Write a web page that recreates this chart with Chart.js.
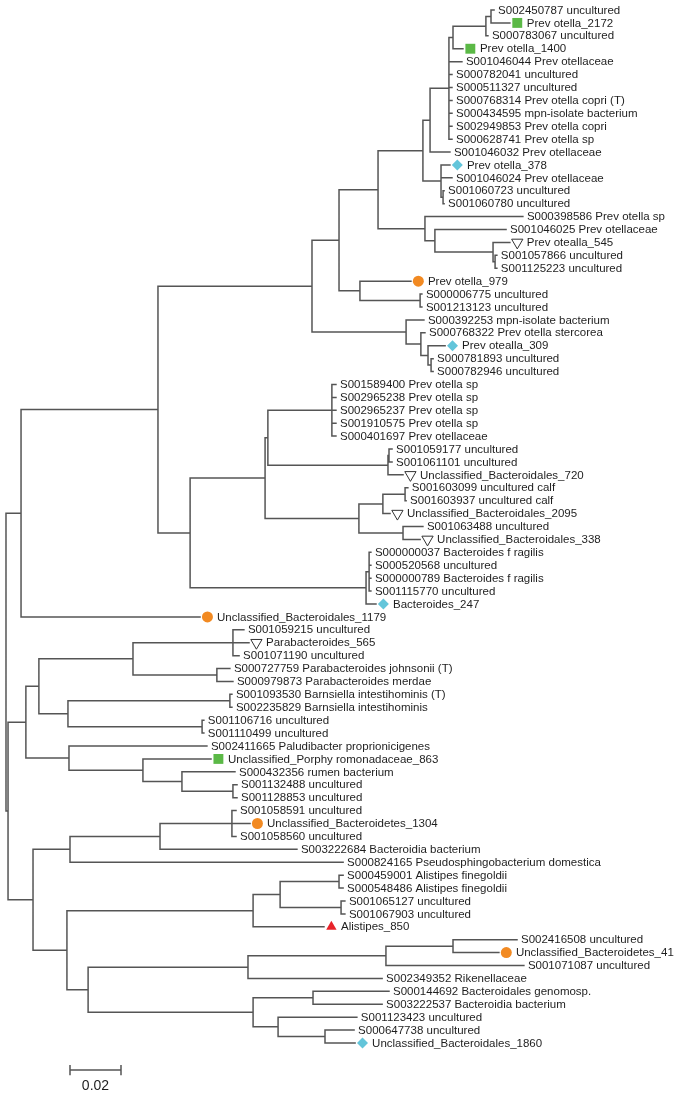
<!DOCTYPE html>
<html>
<head>
<meta charset="utf-8">
<script src="https://cdn.jsdelivr.net/npm/chart.js@4.4.1/dist/chart.umd.min.js"></script>
<style>
  html, body { margin: 0; padding: 0; background: #fff; }
  #wrap { width: 686px; height: 1095px; position: relative; }
</style>
</head>
<body>
<div id="wrap"><canvas id="chart"></canvas></div>
<script>
/* tree: internal nodes (id, parent, distance from root) */
const nodeIds = ["root","K","L","M","I","J","F","E","D","C","B","A","G","H","R","S","T","U","O","P",
  "Q","V","W","X","N","Y","Y2","Z","AA","AB","BB","CC","DD","EE","FF","GG",
  "RR","SS","UU","WW","YY","ZZ","XX","AAA","BBB","VV","CCC","DDD","EEE",
  "TT","FFF","HHH","III","GGG","JJJ","LLL","MMM","NNN","KKK","OOO","QQQ","RRR","PPP","SSS","TTT","UUU"];
const nodeParents = [null,"root","K","L","M","I","J","F","E","D","C","B","F","G","J","R","S","T","I","O",
  "M","Q","V","W","L","N","Y","Y2","Y2","AA","Y","BB","CC","BB","N","FF",
  "root","RR","SS","UU","WW","WW","UU","XX","XX","SS","VV","CCC","DDD",
  "RR","TT","FFF","HHH","TT","GGG","JJJ","LLL","LLL","GGG","KKK","OOO","QQQ","KKK","PPP","PPP","TTT"];
const nodeDepths = [0,0.0059,0.0596,0.1200,0.1306,0.1459,0.1635,0.1663,0.1737,0.1753,0.1882,0.1902,0.1706,0.1714,0.1643,0.1682,0.1910,0.1918,0.1388,0.1624,
  0.1569,0.1627,0.1655,0.1667,0.0722,0.1016,0.1027,0.1278,0.1498,0.1502,0.1384,0.1478,0.1565,0.1557,0.1412,0.1424,
  0.0008,0.0078,0.0129,0.0498,0.0890,0.0827,0.0243,0.0878,0.0769,0.0247,0.0537,0.0690,0.0890,
  0.0106,0.0251,0.0604,0.0886,0.0239,0.0969,0.1075,0.1306,0.1314,0.0322,0.0949,0.1490,0.1753,0.0969,0.1204,0.1067,0.1251];

/* leaves, top to bottom */
const leafLabels = [
  "S002450787 uncultured","Prev otella_2172","S000783067 uncultured","Prev otella_1400",
  "S001046044 Prev otellaceae","S000782041 uncultured","S000511327 uncultured","S000768314 Prev otella copri (T)",
  "S000434595 mpn-isolate bacterium","S002949853 Prev otella copri","S000628741 Prev otella sp","S001046032 Prev otellaceae",
  "Prev otella_378","S001046024 Prev otellaceae","S001060723 uncultured","S001060780 uncultured",
  "S000398586 Prev otella sp","S001046025 Prev otellaceae","Prev otealla_545","S001057866 uncultured",
  "S001125223 uncultured","Prev otella_979","S000006775 uncultured","S001213123 uncultured",
  "S000392253 mpn-isolate bacterium","S000768322 Prev otella stercorea","Prev otealla_309","S000781893 uncultured",
  "S000782946 uncultured","S001589400 Prev otella sp","S002965238 Prev otella sp","S002965237 Prev otella sp",
  "S001910575 Prev otella sp","S000401697 Prev otellaceae","S001059177 uncultured","S001061101 uncultured",
  "Unclassified_Bacteroidales_720","S001603099 uncultured calf","S001603937 uncultured calf","Unclassified_Bacteroidales_2095",
  "S001063488 uncultured","Unclassified_Bacteroidales_338","S000000037 Bacteroides f ragilis","S000520568 uncultured",
  "S000000789 Bacteroides f ragilis","S001115770 uncultured","Bacteroides_247","Unclassified_Bacteroidales_1179",
  "S001059215 uncultured","Parabacteroides_565","S001071190 uncultured","S000727759 Parabacteroides johnsonii (T)",
  "S000979873 Parabacteroides merdae","S001093530 Barnsiella intestihominis (T)","S002235829 Barnsiella intestihominis","S001106716 uncultured",
  "S001110499 uncultured","S002411665 Paludibacter proprionicigenes","Unclassified_Porphy romonadaceae_863","S000432356 rumen bacterium",
  "S001132488 uncultured","S001128853 uncultured","S001058591 uncultured","Unclassified_Bacteroidetes_1304",
  "S001058560 uncultured","S003222684 Bacteroidia bacterium","S000824165 Pseudosphingobacterium domestica","S000459001 Alistipes finegoldii",
  "S000548486 Alistipes finegoldii","S001065127 uncultured","S001067903 uncultured","Alistipes_850",
  "S002416508 uncultured","Unclassified_Bacteroidetes_41","S001071087 uncultured","S002349352 Rikenellaceae",
  "S000144692 Bacteroidales genomosp.","S003222537 Bacteroidia bacterium","S001123423 uncultured","S000647738 uncultured",
  "Unclassified_Bacteroidales_1860"
];
const leafParents = [
  "A","A","B","C","D","D","D","D","D","D","D","E","G","G","H","H",
  "R","S","T","U","U","O","P","P","Q","V","W","X","X",
  "Z","Z","Z","Z","Z","AB","AB","AA","DD","DD","CC","EE","EE",
  "GG","GG","GG","GG","FF","K",
  "YY","YY","YY","ZZ","ZZ","AAA","AAA","BBB","BBB","VV","CCC","DDD","EEE","EEE",
  "III","III","III","HHH","FFF","MMM","MMM","NNN","NNN","JJJ",
  "RRR","RRR","QQQ","OOO","SSS","SSS","TTT","UUU","UUU"
];
const leafDepths = [
  0.1914,0.1976,0.1890,0.1792,0.1788,0.1749,0.1749,0.1749,0.1749,0.1749,0.1749,0.1741,0.1741,0.1749,0.1718,0.1718,
  0.2027,0.1961,0.1976,0.1925,0.1925,0.1588,0.1631,0.1631,0.1639,0.1643,0.1722,0.1675,0.1675,
  0.1294,0.1294,0.1294,0.1294,0.1294,0.1514,0.1514,0.1557,0.1576,0.1569,0.1506,0.1635,0.1624,
  0.1431,0.1431,0.1431,0.1431,0.1451,0.0761,
  0.0933,0.0953,0.0914,0.0878,0.0890,0.0886,0.0886,0.0776,0.0776,0.0788,0.0804,0.0898,0.0906,0.0906,
  0.0902,0.0957,0.0902,0.1141,0.1322,0.1322,0.1322,0.1329,0.1329,0.1247,
  0.2004,0.1933,0.2031,0.1475,0.1502,0.1475,0.1376,0.1365,0.1369
];
/* marker group per leaf name */
const squareLeaves = ["Prev otella_2172","Prev otella_1400","Unclassified_Porphy romonadaceae_863"];
const diamondLeaves = ["Prev otella_378","Prev otealla_309","Bacteroides_247","Unclassified_Bacteroidales_1860"];
const circleLeaves = ["Prev otella_979","Unclassified_Bacteroidales_1179","Unclassified_Bacteroidetes_1304","Unclassified_Bacteroidetes_41"];
const openTriLeaves = ["Prev otealla_545","Unclassified_Bacteroidales_720","Unclassified_Bacteroidales_2095","Unclassified_Bacteroidales_338","Parabacteroides_565"];
const redTriLeaves = ["Alistipes_850"];

const scaleBarStart = 0.0251;
const scaleBarLength = 0.02;
const scaleBarRow = 82.1;

/* styling */
const LINE = "#555555";
const MARK_GAP = 0.0029;
const FONT = '11.5px "Liberation Sans", Arial, Helvetica, sans-serif';

/* build tree geometry */
const depthOf = {};
nodeIds.forEach((id, i) => depthOf[id] = nodeDepths[i]);
const kids = {};
nodeIds.forEach(id => kids[id] = []);
nodeParents.forEach((p, i) => { if (p) kids[p].push({ node: nodeIds[i] }); });
leafParents.forEach((p, i) => kids[p].push({ leaf: i }));

const rowOf = {};
function nodeRow(id) {
  if (rowOf[id] !== undefined) return rowOf[id];
  const ys = kids[id].map(c => c.leaf !== undefined ? c.leaf : nodeRow(c.node));
  rowOf[id] = (Math.min(...ys) + Math.max(...ys)) / 2;
  return rowOf[id];
}
nodeIds.forEach(nodeRow);

const branchPts = [];
const gap = { x: null, y: null };
nodeIds.forEach((id, i) => {
  const ys = kids[id].map(c => c.leaf !== undefined ? c.leaf : rowOf[c.node]);
  branchPts.push({ x: depthOf[id], y: Math.min(...ys) }, { x: depthOf[id], y: Math.max(...ys) }, gap);
  const p = nodeParents[i];
  if (p) branchPts.push({ x: depthOf[p], y: rowOf[id] }, { x: depthOf[id], y: rowOf[id] }, gap);
});
leafParents.forEach((p, i) => {
  branchPts.push({ x: depthOf[p], y: i }, { x: leafDepths[i], y: i }, gap);
});

const capH = 0.4;
const scaleBarPts = [
  { x: scaleBarStart, y: scaleBarRow }, { x: scaleBarStart + scaleBarLength, y: scaleBarRow }, gap,
  { x: scaleBarStart, y: scaleBarRow - capH }, { x: scaleBarStart, y: scaleBarRow + capH }, gap,
  { x: scaleBarStart + scaleBarLength, y: scaleBarRow - capH }, { x: scaleBarStart + scaleBarLength, y: scaleBarRow + capH }
];

const hasMarker = name => [squareLeaves, diamondLeaves, circleLeaves, openTriLeaves, redTriLeaves].some(g => g.includes(name));
function markerPts(group) {
  return leafLabels.map((n, i) => group.includes(n) ? { x: leafDepths[i] + MARK_GAP, y: i } : null).filter(Boolean);
}

const labelPlugin = {
  id: "leafLabels",
  afterDatasetsDraw(chart) {
    const ctx = chart.ctx;
    const xs = chart.scales.x, ys = chart.scales.y;
    ctx.save();
    ctx.font = FONT;
    ctx.fillStyle = "#1e1e1e";
    ctx.textBaseline = "middle";
    ctx.textAlign = "left";
    leafLabels.forEach((name, i) => {
      const px = xs.getPixelForValue(leafDepths[i]) + (hasMarker(name) ? 17 : 4);
      ctx.fillText(name, px, ys.getPixelForValue(i) + 0.5);
    });
    ctx.font = '14px "Liberation Sans", Arial, sans-serif';
    ctx.textAlign = "center";
    ctx.fillText(scaleBarLength.toFixed(2), xs.getPixelForValue(scaleBarStart + scaleBarLength / 2), ys.getPixelForValue(scaleBarRow) + 16);
    ctx.restore();
  }
};

const chart = document.getElementById("chart");
new Chart(chart, {
  type: "scatter",
  data: {
    datasets: [
      { label: "square", data: markerPts(squareLeaves), pointStyle: "rect", pointRadius: 7, backgroundColor: "#5bb946", borderWidth: 0, order: 0 },
      { label: "diamond", data: markerPts(diamondLeaves), pointStyle: "rectRot", pointRadius: 5.5, backgroundColor: "#63c5da", borderWidth: 0, order: 0 },
      { label: "circle", data: markerPts(circleLeaves), pointStyle: "circle", pointRadius: 5.5, backgroundColor: "#f28a22", borderWidth: 0, order: 0 },
      { label: "openTri", data: markerPts(openTriLeaves), pointStyle: "triangle", rotation: 180, pointRadius: 6.5, backgroundColor: "#ffffff", borderColor: "#333333", borderWidth: 1, order: 0 },
      { label: "redTri", data: markerPts(redTriLeaves), pointStyle: "triangle", pointRadius: 6, backgroundColor: "#e8232a", borderWidth: 0, order: 0 },
      { label: "branches", data: branchPts, showLine: true, spanGaps: false, pointRadius: 0, borderColor: LINE, borderWidth: 1.5, borderCapStyle: "square", order: 1 },
      { label: "scalebar", data: scaleBarPts, showLine: true, spanGaps: false, pointRadius: 0, borderColor: LINE, borderWidth: 1.5, order: 1 }
    ]
  },
  options: {
    responsive: true,
    maintainAspectRatio: false,
    animation: false,
    events: [],
    layout: { padding: 0, autoPadding: false },
    plugins: { legend: { display: false }, tooltip: { enabled: false } },
    scales: {
      x: { type: "linear", display: false, min: -0.00235, max: 0.26667 },
      y: { type: "linear", display: false, reverse: true, min: -0.7744, max: 84.0268 }
    }
  },
  plugins: [labelPlugin]
});
</script>
</body>
</html>
